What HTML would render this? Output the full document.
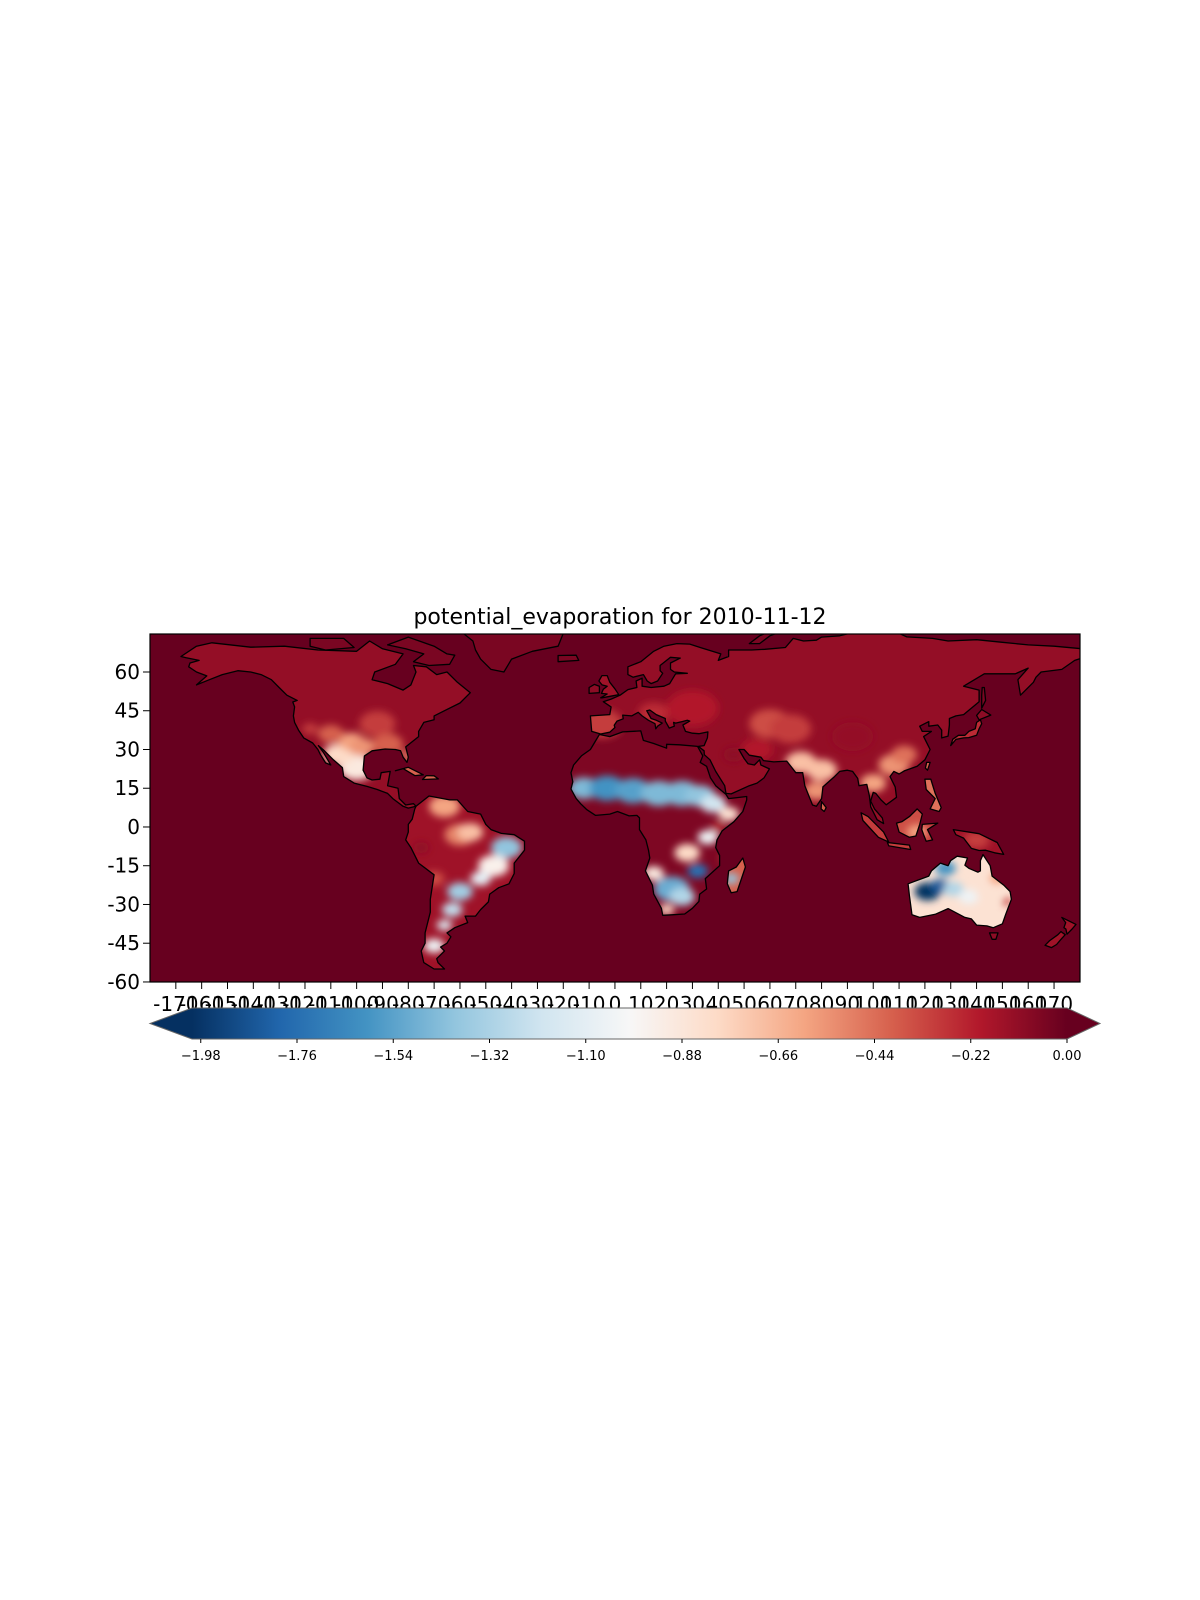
<!DOCTYPE html>
<html><head><meta charset="utf-8"><style>
html,body{margin:0;padding:0;background:#fff;}
svg{display:block;font-family:"DejaVu Sans","Liberation Sans",sans-serif;}
</style></head><body>
<svg id="chart" width="1200" height="1600" viewBox="0 0 1200 1600">
<defs>
<linearGradient id="cbgrad" x1="0" x2="1" y1="0" y2="0">
<stop offset="0" stop-color="#053061"/><stop offset="0.1" stop-color="#2166ac"/><stop offset="0.2" stop-color="#4393c3"/><stop offset="0.3" stop-color="#92c5de"/><stop offset="0.4" stop-color="#d1e5f0"/><stop offset="0.5" stop-color="#f7f7f7"/><stop offset="0.6" stop-color="#fddbc7"/><stop offset="0.7" stop-color="#f4a582"/><stop offset="0.8" stop-color="#d6604d"/><stop offset="0.9" stop-color="#b2182b"/><stop offset="1" stop-color="#67001f"/>
</linearGradient>
<clipPath id="mapclip"><rect x="150" y="634" width="930" height="348"/></clipPath>
<clipPath id="landclip"></clipPath>
<filter id="blur" x="-20%" y="-20%" width="140%" height="140%"><feGaussianBlur stdDeviation="4"/></filter>
</defs>
<text x="620" y="624" text-anchor="middle" font-size="22" fill="#000">potential_evaporation for 2010-11-12</text>
<g clip-path="url(#mapclip)">
<rect x="150" y="634" width="930" height="348" fill="#67001f"/>
<g id="landbase"></g>
<g clip-path="url(#landclip)"><g id="patches" filter="url(#blur)"></g></g>
<g id="coast"></g>
</g>
<rect x="150" y="634" width="930" height="348" fill="none" stroke="#000" stroke-width="1.2"/>
<g id="yaxis"></g><g id="xaxis"></g>
<g id="colorbar"></g>
</svg>
<script>
const NS='http://www.w3.org/2000/svg';
function X(lon){return 150+(lon+180)*2.583;}
function Y(lat){return 672-(lat-60)*2.583;}
const stops=[[0,[5,48,97]],[0.1,[33,102,172]],[0.2,[67,147,195]],[0.3,[146,197,222]],[0.4,[209,229,240]],[0.5,[247,247,247]],[0.6,[253,219,199]],[0.7,[244,165,130]],[0.8,[214,96,77]],[0.9,[178,24,43]],[1,[103,0,31]]];
const vmin=-2.0, vmax=0.0;
function col(v){let t=(v-vmin)/(vmax-vmin);t=Math.max(0,Math.min(1,t));for(let i=1;i<stops.length;i++){if(t<=stops[i][0]){const a=stops[i-1],b=stops[i];const f=(t-a[0])/(b[0]-a[0]);const c=a[1].map((x,k)=>Math.round(x+(b[1][k]-x)*f));return 'rgb('+c.join(',')+')';}}return 'rgb(103,0,31)';}

const landNames=['north-america','greenland','baffin-island','victoria-island','south-america','africa','madagascar','eurasia','great-britain','ireland','iceland','honshu','hokkaido','sumatra','borneo','java','new-guinea','philippines','australia','tasmania','nz-north','nz-south','cuba','hispaniola','sakhalin','sulawesi','sri-lanka','taiwan','svalbard','novaya-zemlya'];
const landShapes=[
[[-168,66],[-162,70],[-156,71.3],[-141,69.6],[-128,70],[-115,68.5],[-100,68],[-95,72],[-90,69],[-82,67],[-85,63],[-93,60],[-94,57],[-88,55.5],[-82,53],[-79,55],[-77,60],[-78,62.5],[-73,62],[-69,59],[-65,60],[-61,56],[-56,52],[-60,48],[-66,45],[-70,43],[-70,41.5],[-74,40.5],[-76,37],[-76,35],[-81,31],[-80,27],[-80.5,25],[-82,27],[-83,29.5],[-85,30],[-89,30.2],[-94,29.5],[-97,27.5],[-97.5,22],[-96,19],[-94,18.2],[-91,18.5],[-90.5,21],[-87,21.5],[-88,16],[-84,15],[-83.5,11],[-81,8.5],[-78,9],[-77,8],[-80,7.3],[-82,8],[-86,11],[-88,13],[-92,14.5],[-96,15.7],[-101,17],[-105,19.5],[-105.5,23],[-109,26],[-112.5,29.5],[-114.8,31.5],[-113,29],[-110,24],[-112,24.8],[-114,28],[-115,30],[-117,32.5],[-120.5,34.5],[-122.5,37.5],[-124,40.5],[-124.5,43],[-124,46.5],[-124.7,48.4],[-123,49],[-127,51],[-130,54],[-133,57],[-137,59],[-141,60],[-146,60.5],[-152,59],[-157,57],[-162,55],[-158,58.5],[-162,60],[-165,62],[-164.5,63.5],[-161,64.5],[-166,65.5]],
[[-73,78],[-60,82],[-30,83],[-20,80],[-20,75],[-22,70],[-32,68],[-40,65],[-43,60],[-48,61],[-52,65],[-54,68.5],[-55,72],[-60,76],[-70,77]],
[[-80,73.5],[-70,70],[-65,67],[-62,66.5],[-64,63],[-72,62.5],[-78,64],[-74,67],[-81,69],[-88,70.5]],
[[-118,73],[-105,73],[-101,69.5],[-112,68.5],[-118,70]],
[[-77,8],[-72,12],[-64,10.5],[-61,10.5],[-57,6],[-52,5],[-50,1],[-48,-1],[-44,-2.5],[-39,-3],[-35,-5.5],[-35,-9],[-39,-14],[-39,-18],[-41,-22],[-45,-23.5],[-48.5,-26],[-49,-29],[-52,-32],[-54,-34.5],[-58,-34.5],[-57,-37],[-62,-39],[-65,-41],[-63.5,-42.5],[-65,-45],[-67.5,-46.5],[-66,-48],[-69,-51],[-68.5,-52.5],[-66,-55],[-70,-55],[-74,-52.5],[-75,-48],[-73.5,-45],[-73.5,-41],[-71.5,-33],[-71.5,-28],[-70,-18.5],[-76,-14],[-79,-8],[-81,-5],[-80,-2],[-80,1],[-78.5,3],[-77.5,7]],
[[-17,21],[-16,24],[-13,27.5],[-9.5,30],[-6,35.8],[-2,35],[3,36.8],[10,37.2],[11,33.5],[15,32.3],[20,30.5],[20,32],[25,31.8],[32,31.2],[34,27.5],[33,25],[35.5,23.5],[37,19],[39,16],[43,12.6],[44,11],[51,11.8],[51,10.5],[49.5,6],[46,2],[41.5,-1.5],[39.5,-5],[39,-8],[40.5,-11],[40.5,-15],[35,-20],[35.5,-24],[32.8,-26],[32.5,-28.8],[30,-31.5],[27,-33.7],[22,-34],[18.5,-34.2],[18,-31.5],[15,-26],[14.5,-22.5],[11.8,-17],[13.5,-12],[13,-9],[12,-5],[9.5,-1],[9.5,3.5],[8.5,4.5],[5.5,4.3],[1,6],[-2,5],[-7.5,4.5],[-11,6.8],[-13.3,9],[-15,11],[-17,14.7],[-16.3,17.5]],
[[49.5,-12],[50.5,-15.5],[47.3,-25],[45,-25.5],[43.5,-22],[44,-17],[47,-15.5]],
[[-9,37],[-9.5,43],[-2,43.5],[-1.5,46.5],[-4.5,48.5],[-1.5,49.5],[2,51],[5,53.2],[8.5,54],[8.2,56.5],[10.5,57.6],[10.5,54.5],[14,54],[19,54.5],[21.2,55.5],[23.5,59.3],[28,59.5],[23,60],[21.5,61],[21.5,63.5],[25.3,65.4],[21.5,65.7],[17.5,62.5],[17.5,60.5],[18.5,59.5],[16.5,56.5],[14,55.5],[12.5,56.5],[11,59],[7,58],[5,59],[5,62],[10,64],[15,68],[19,70],[24,71],[29,70.8],[33,69.5],[41,67],[40,64.5],[44,66],[44,68.5],[53,68.5],[58,68.8],[66,69.5],[69,73],[73,72],[78,72.3],[80,73.5],[87,74],[95,76],[104,77.7],[113,73.6],[123,73],[129,72],[140,72.5],[150,71.5],[160,70.5],[170,70],[181,69],[181,65.5],[178,64.5],[173,61],[165,60],[163,58],[162,56],[157,51],[156,57],[160,61.5],[155,59.3],[148,59.3],[143,59.3],[135,54.5],[141,53],[141,48.5],[135,43.5],[132,43],[129.5,42],[129.5,39.5],[129,35.2],[126.5,34.5],[126.5,37.5],[125,39.5],[121.5,39],[121.5,40.8],[118,39],[119,37],[122.5,37],[119.5,35],[121,32],[122,30],[120,26],[117,23.5],[112,21.7],[110,20.5],[108,21.5],[106.5,19.5],[108.5,15.5],[109,11.5],[105,8.6],[103,10.5],[101,13],[100,13.4],[99,10],[100.5,7],[103.5,3.5],[104,1.3],[101.5,2.8],[99,7.8],[98.5,12],[97.5,16.5],[94.5,16],[94,18.8],[92,21.5],[90,22],[87,21.5],[85,19.5],[80.5,15.5],[80,11],[78,8],[76.5,8.5],[73.5,16],[72.7,21],[70,21],[68.5,23],[66.5,25.5],[61.5,25.2],[57.5,25.7],[56.5,27],[52,27.8],[50,30],[48,30],[50,26.5],[51.5,24.5],[54,24],[56,26],[56.5,24],[59.8,22.5],[57.7,19],[55,17],[52,16],[45,12.8],[43,13],[42.5,16],[39,21.5],[36.8,26],[34.6,28],[34.5,29.5],[32.3,31.2],[34.5,31.5],[35.8,34.5],[36,36.8],[32.5,36.1],[30,36.3],[27.3,37],[26.3,39.5],[29,41],[28,41.3],[26,40.8],[23.5,40.2],[22.7,40.5],[23,39],[21,38.3],[19.5,41],[19.5,42],[16,43.5],[13.5,45.3],[12.3,45],[14,42],[16,41.3],[18.3,40.2],[16.5,39],[15.8,38],[15.5,40],[13,41.3],[10.5,43],[9,44.4],[6.5,43],[3,43.3],[3.2,41.9],[0.8,41],[-0.3,39.4],[0,38.5],[-2,36.7],[-5.5,36]],
[[-5,50],[1.5,51.2],[0,53.5],[-2,56],[-3,58.6],[-5,58.6],[-6.2,56.5],[-5,55],[-3,54.5],[-4.5,53.3],[-5.2,51.7],[-3,51.5],[-5.5,50]],
[[-6,52],[-6,54.5],[-8,55.2],[-10,54],[-10,51.7]],
[[-22,64],[-14,64.5],[-15,66.5],[-22,66.4]],
[[130,31.5],[132,33.9],[135,34.5],[137,34.6],[140,35.5],[141,38],[142,40],[141.5,41.5],[140,40.5],[139.5,38],[137,37],[135.5,35.5],[133,35.5],[130.8,34]],
[[141,41.5],[145.5,43.3],[142,45.5],[140,43.2]],
[[95.3,5.5],[98,4],[104,-2],[106,-5.8],[102,-4],[96,2.5]],
[[109,1.5],[110,-2],[114,-4],[116.5,-3.5],[118,1],[119,5],[117,7],[114,4],[111,2]],
[[105.5,-6],[114,-7],[114.5,-8.7],[106,-7.3]],
[[131,-1],[141,-2.6],[148,-6],[150.5,-10.6],[147,-10],[143.5,-9],[141,-9.1],[138,-8.3],[135,-4.3],[132,-3]],
[[120,18.5],[122.3,18.5],[124,13],[126.3,7.5],[125.5,6],[122,7],[124,11],[120.5,14.5]],
[[113.5,-22],[114,-26.5],[115,-34],[118,-35],[124,-33.8],[129,-31.6],[135.5,-35],[138,-35.6],[140,-38],[144,-38.3],[146.5,-39],[150,-37.5],[151.3,-33.8],[153.5,-28],[153,-25],[150.5,-22.5],[146,-19],[145.3,-15],[142.5,-10.7],[141.5,-13],[141.5,-17],[140.5,-17.5],[137,-16],[135.5,-14.8],[136.5,-12],[132.5,-11.3],[130,-13],[129,-15],[126,-14],[122.5,-17],[121.5,-19],[117,-20.7]],
[[145,-41],[148.3,-41],[147.5,-43.5],[146,-43.5]],
[[173,-35],[178.5,-37.7],[177,-39.5],[175,-41.5],[174.6,-39.5],[173.8,-39],[174.5,-37]],
[[172.7,-40.5],[174.3,-41.7],[172.7,-43.5],[171,-45.5],[169,-46.7],[166.5,-45.8],[168.3,-44],[171.5,-41.7]],
[[-85,21.8],[-80,23.1],[-74.2,20.2],[-77.5,19.9],[-82,22.6]],
[[-74.5,18.4],[-68.4,18.6],[-70,19.8],[-73,19.9]],
[[142,46],[143.5,49],[143,54],[142.2,54],[142,51]],
[[119,1],[125,1.5],[121,-1],[123,-5],[120.5,-5.5],[119.5,-3],[118.8,-1]],
[[80,9.8],[81.8,7.5],[81,6],[79.8,7]],
[[120.7,25],[122,25],[121,22],[120.2,22.8]],
[[10,79],[20,80.5],[27,80],[22,77],[15,76.5],[11,78]],
[[52,71],[56,74],[62,76.5],[68,77],[60,74],[56,71]]
];
const baseVal=[-0.12,-0.05,-0.05,-0.05,-0.15,-0.06,-0.4,-0.12,-0.15,-0.1,-0.05,-0.25,-0.1,-0.3,-0.35,-0.3,-0.15,-0.45,-0.85,-0.1,-0.15,-0.15,-0.4,-0.4,-0.05,-0.3,-0.4,-0.4,-0.05,-0.05];

// heat patches: longitude, latitude (centre), half-extent (deg), value
const patchLon=[-100,-107,-102,-98,-88,-81,-92,-110,-118,-78, -66,-42,-47,-52,-60,-63,-66,-70,-75,-60,-56,-70, -12,-3,7,17,26,33,38,44,36,28,32,22,26,15,20,44,40,45, -5,15,30,60,72,80,78,100,108,112,92,68,55,46, 121,126,131,128,137,144,148,152,117,140, 125];
const patchLat=[23,28,33,31,32,28,40,36,38,25, 8,-8,-15,-20,-25,-32,-38,-46,-8,-3,-2,-20, 15,15,14,13,13,12,9,5,-4,-10,-17,-24,-27,-18,-32,-12,0,-20, 40,44,46,40,25,22,14,17,24,28,35,38,30,28, -25,-23,-24,-16,-27,-26,-20,-29,-2,-5, 8];
const patchR=[7,6,5,5,6,2,7,5,3,3, 6,6,6,4,5,4,3,4,3,6,5,4, 6,7,7,7,7,6,5,4,4,5,4,7,5,4,3,3,3,3, 8,6,10,8,6,6,5,5,6,5,8,8,6,4, 5,4,4,4,4,4,3,2,4,5, 3];
const patchVal=[-0.9,-0.8,-0.6,-0.55,-0.4,-0.55,-0.3,-0.4,-0.3,-0.45, -0.6,-1.4,-0.95,-1.1,-1.35,-1.25,-1.15,-1.05,-0.1,-0.5,-0.7,-0.35, -1.45,-1.6,-1.55,-1.45,-1.45,-1.4,-1.2,-0.85,-1.05,-0.8,-1.75,-1.5,-1.3,-0.9,-0.8,-0.4,-0.2,-1.4, -0.3,-0.25,-0.2,-0.35,-0.7,-0.7,-0.55,-0.6,-0.55,-0.45,-0.12,-0.3,-0.2,-0.1, -2.0,-1.85,-1.3,-1.6,-1.05,-0.85,-0.6,-0.3,-0.6,-0.3, -0.45];

const tickLats=[60,45,30,15,0,-15,-30,-45,-60];
const tickLons=[-170,-160,-150,-140,-130,-120,-110,-100,-90,-80,-70,-60,-50,-40,-30,-20,-10,0,10,20,30,40,50,60,70,80,90,100,110,120,130,140,150,160,170];
const cbTicks=[-1.98,-1.76,-1.54,-1.32,-1.10,-0.88,-0.66,-0.44,-0.22,0.00];

function mk(tag,attrs,parent){const e=document.createElementNS(NS,tag);for(const k in attrs)e.setAttribute(k,attrs[k]);parent.appendChild(e);return e;}
function pathOf(pts){return 'M'+pts.map(p=>X(p[0]).toFixed(1)+','+Y(p[1]).toFixed(1)).join('L')+'Z';}

const landbase=document.getElementById('landbase'),coast=document.getElementById('coast'),clip=document.getElementById('landclip'),patches=document.getElementById('patches');
landShapes.forEach((pts,i)=>{
  const d=pathOf(pts);
  const b=mk('path',{d:d,fill:col(baseVal[i])},landbase);
  
  
  mk('path',{d:d},clip);
  const c=mk('path',{d:d,fill:'none',stroke:'#000','stroke-width':1.3,'stroke-linejoin':'round'},coast);
  
  
});
patchVal.forEach((v,i)=>{
  const r=patchR[i]*2.583;
  const e=mk('ellipse',{cx:X(patchLon[i]),cy:Y(patchLat[i]),rx:r,ry:r*0.7,fill:col(v)},patches);
  
  
});

const ya=document.getElementById('yaxis');
tickLats.forEach(v=>{
  const y=Y(v);
  const t=mk('line',{x1:143,x2:150,y1:y,y2:y,stroke:'#000','stroke-width':1},ya);
  
  
  const l=mk('text',{x:140,y:y+7,'text-anchor':'end','font-size':20,fill:'#000'},ya);
  l.textContent=String(v);
  
  
});
const xa=document.getElementById('xaxis');
tickLons.forEach(v=>{
  const x=X(v);
  const t=mk('line',{x1:x,x2:x,y1:982,y2:989,stroke:'#000','stroke-width':1},xa);
  
  
  const l=mk('text',{x:x,y:1011,'text-anchor':'middle','font-size':20,fill:'#000'},xa);
  l.textContent=String(v);
  
  
});

const cb=document.getElementById('colorbar');
function CX(v){return 192+(v-vmin)/(vmax-vmin)*875;}
const lt=mk('polygon',{points:'192,1008 150,1023.5 192,1039',fill:col(vmin)},cb);


const rt=mk('polygon',{points:'1067,1008 1100,1023.5 1067,1039',fill:col(vmax)},cb);


const bar=mk('rect',{x:192,y:1008,width:875,height:31,fill:'url(#cbgrad)'},cb);


const ol=mk('polygon',{points:'192,1008 1067,1008 1100,1023.5 1067,1039 192,1039 150,1023.5',fill:'none',stroke:'#666','stroke-width':1},cb);


cbTicks.forEach(v=>{
  const x=CX(v);
  const t=mk('line',{x1:x,x2:x,y1:1039,y2:1043,stroke:'#000','stroke-width':1},cb);
  
  
  const l=mk('text',{x:x,y:1060,'text-anchor':'middle','font-size':13,fill:'#000'},cb);
  l.textContent=v===0?'0.00':'\u2212'+Math.abs(v).toFixed(2);
  
  
});
</script>
</body></html>
